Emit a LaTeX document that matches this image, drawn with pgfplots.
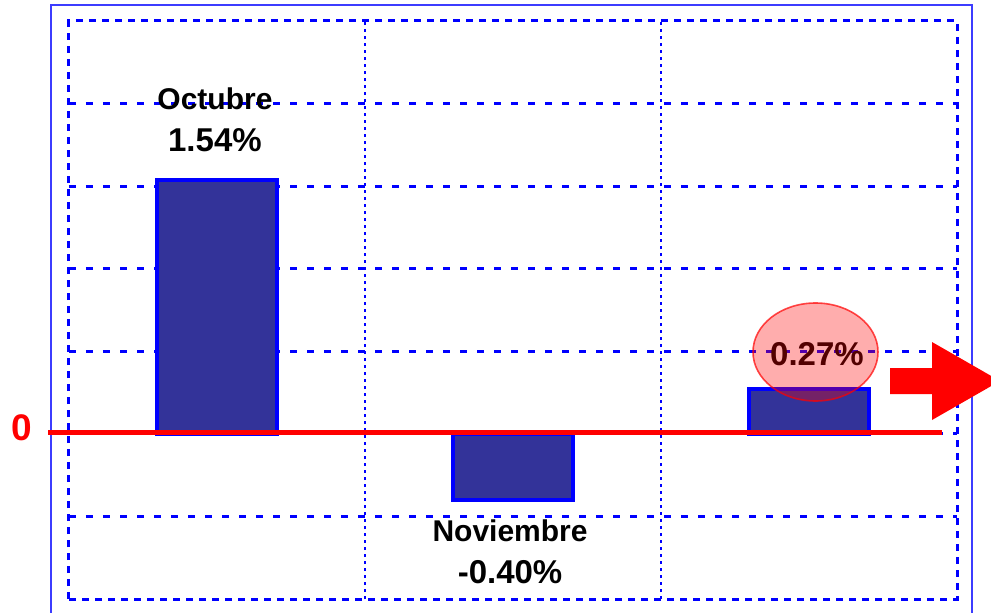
\documentclass[border=0pt]{standalone}
\usepackage{pgfplots}
\pgfplotsset{compat=1.18}
\usepackage{fontspec}
\setmainfont{Liberation Sans}
\definecolor{barfill}{RGB}{51,51,153}
\definecolor{frameblue}{RGB}{60,60,255}

\begin{document}
\begin{tikzpicture}
\path[use as bounding box] (0,0) rectangle (495.5pt,306pt);
% outer frame
\draw[frameblue, line width=1pt] (25.5pt,-3pt) rectangle (486pt,303.5pt);
\begin{axis}[
  at={(34.5pt,6.5pt)}, anchor=south west,
  scale only axis,
  width=444pt, height=289pt,
  xmin=0, xmax=3, ymin=-1, ymax=2.5,
  xtick={1,2}, ytick={-0.5,0,0.5,1,1.5,2},
  xticklabels={}, yticklabels={},
  major tick length=0pt,
  xmajorgrids, ymajorgrids,
  x grid style={blue, line width=1.2pt, dash pattern=on 1.6pt off 1.9pt},
  y grid style={blue, line width=1.5pt, dash pattern=on 3.5pt off 5pt},
  axis line style={blue, line width=1.5pt, dash pattern=on 3.5pt off 3pt},
  clip=false,
]
\addplot[ybar, bar width=0.405, fill=barfill, draw=blue, line width=2pt]
  coordinates {(0.5,1.54) (1.5,-0.40) (2.5,0.27)};
\node[font=\fontsize{15}{18}\selectfont\bfseries] at (axis cs:0.493,2.03) {Octubre};
\node[font=\fontsize{16.5}{19}\selectfont\bfseries] at (axis cs:0.493,1.78) {1.54\%};
\node[font=\fontsize{15}{18}\selectfont\bfseries] at (axis cs:1.49,-0.587) {Noviembre};
\node[font=\fontsize{16.5}{19}\selectfont\bfseries] at (axis cs:1.49,-0.836) {-0.40\%};
\node[font=\fontsize{16.5}{19}\selectfont\bfseries] at (axis cs:2.527,0.484) {0.27\%};
\end{axis}
% zero line and label
\draw[red, line width=2.5pt] (24pt,90pt) -- (471pt,90pt);
\node[red, font=\fontsize{18.5}{20}\selectfont\bfseries] at (11pt,92pt) {0};
% highlight ellipse
\fill[red, fill opacity=0.32] (407.75pt,130pt) ellipse (31.25pt and 24.5pt);
\draw[red, draw opacity=0.7, line width=0.8pt] (407.75pt,130pt) ellipse (31.25pt and 24.5pt);
% arrow
\fill[red] (445pt,122pt) -- (466pt,122pt) -- (466pt,135pt) -- (500pt,115.5pt)
  -- (466pt,96pt) -- (466pt,109pt) -- (445pt,109pt) -- cycle;
\end{tikzpicture}
\end{document}
